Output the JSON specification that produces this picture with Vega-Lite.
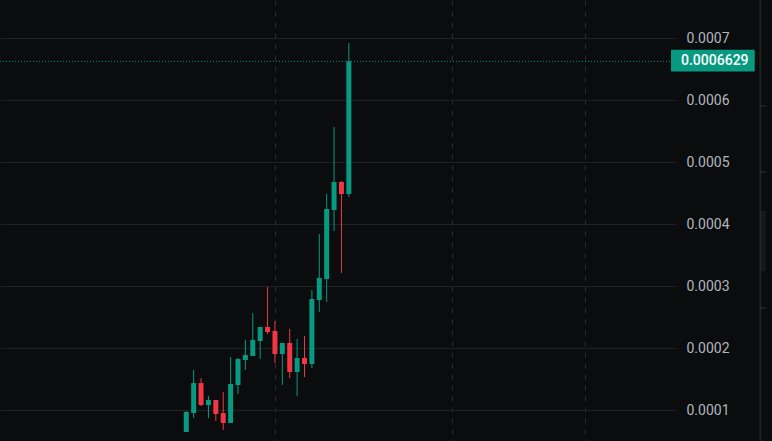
{
  "$schema": "https://vega.github.io/schema/vega-lite/v6.json",
  "width": 676,
  "height": 441,
  "padding": {"left": 0, "top": 0, "right": 96, "bottom": 0},
  "autosize": {"type": "none"},
  "background": "#0b0c0e",
  "config": {
    "view": {"stroke": null},
    "font": "Roboto",
    "axis": {"title": null}
  },
  "datasets": {
    "candles": [
      {"i": 0, "open": 0.0000650, "high": 0.0000989, "low": 0.0000650, "close": 0.0000973},
      {"i": 1, "open": 0.0000956, "high": 0.0001650, "low": 0.0000876, "close": 0.0001440},
      {"i": 2, "open": 0.0001440, "high": 0.0001521, "low": 0.0001069, "close": 0.0001085},
      {"i": 3, "open": 0.0001085, "high": 0.0001231, "low": 0.0000876, "close": 0.0001166},
      {"i": 4, "open": 0.0001166, "high": 0.0001166, "low": 0.0000827, "close": 0.0000940},
      {"i": 5, "open": 0.0000956, "high": 0.0001295, "low": 0.0000682, "close": 0.0000795},
      {"i": 6, "open": 0.0000795, "high": 0.0001860, "low": 0.0000795, "close": 0.0001424},
      {"i": 7, "open": 0.0001408, "high": 0.0001844, "low": 0.0001263, "close": 0.0001827},
      {"i": 8, "open": 0.0001811, "high": 0.0002135, "low": 0.0001650, "close": 0.0001892},
      {"i": 9, "open": 0.0001876, "high": 0.0002569, "low": 0.0001876, "close": 0.0002135},
      {"i": 10, "open": 0.0002118, "high": 0.0002344, "low": 0.0001827, "close": 0.0002344},
      {"i": 11, "open": 0.0002344, "high": 0.0002990, "low": 0.0002230, "close": 0.0002263},
      {"i": 12, "open": 0.0002279, "high": 0.0002440, "low": 0.0001763, "close": 0.0001908},
      {"i": 13, "open": 0.0001908, "high": 0.0002086, "low": 0.0001408, "close": 0.0002086},
      {"i": 14, "open": 0.0002086, "high": 0.0002311, "low": 0.0001521, "close": 0.0001618},
      {"i": 15, "open": 0.0001618, "high": 0.0002150, "low": 0.0001231, "close": 0.0001844},
      {"i": 16, "open": 0.0001844, "high": 0.0002198, "low": 0.0001537, "close": 0.0001747},
      {"i": 17, "open": 0.0001747, "high": 0.0002940, "low": 0.0001682, "close": 0.0002795},
      {"i": 18, "open": 0.0002779, "high": 0.0003844, "low": 0.0002585, "close": 0.0003134},
      {"i": 19, "open": 0.0003118, "high": 0.0004489, "low": 0.0002747, "close": 0.0004247},
      {"i": 20, "open": 0.0004231, "high": 0.0005569, "low": 0.0003892, "close": 0.0004682},
      {"i": 21, "open": 0.0004682, "high": 0.0004698, "low": 0.0003215, "close": 0.0004489},
      {"i": 22, "open": 0.0004489, "high": 0.0006924, "low": 0.0004440, "close": 0.0006629}
    ],
    "one": [{"label": "0.0006629"}],
    "sideTicks": [{"v": 0.0005908}, {"v": 0.0004844}, {"v": 0.0002650}]
  },
  "layer": [
    {
      "data": {"name": "candles"},
      "mark": {"type": "rule", "strokeWidth": 1},
      "encoding": {
        "x": {
          "field": "i", "type": "quantitative",
          "scale": {"domain": [-24.5333, 65.6], "nice": false, "zero": false},
          "axis": {"values": [12, 36, 54], "labels": false, "ticks": false, "domain": false, "grid": true, "gridColor": "#2a2c31", "gridDash": [5, 6], "gridWidth": 1}
        },
        "y": {
          "field": "low", "type": "quantitative",
          "scale": {"domain": [0.0000505, 0.0007618], "nice": false, "zero": false},
          "axis": {"orient": "right", "values": [0.0001, 0.0002, 0.0003, 0.0004, 0.0005, 0.0006, 0.0007], "format": ".4f", "labelColor": "#b2b5be", "labelFontSize": 14, "labelFont": "Roboto", "labelPadding": 10, "ticks": false, "domain": false, "grid": true, "gridColor": "#1f2125", "gridWidth": 1}
        },
        "y2": {"field": "high"},
        "color": {"condition": {"test": "datum.close >= datum.open", "value": "#089981"}, "value": "#f23645"}
      }
    },
    {
      "data": {"name": "candles"},
      "mark": {"type": "bar", "width": 5},
      "encoding": {
        "x": {"field": "i", "type": "quantitative", "scale": {"domain": [-24.5333, 65.6], "nice": false, "zero": false}},
        "y": {"field": "open", "type": "quantitative", "scale": {"domain": [0.0000505, 0.0007618], "nice": false, "zero": false}},
        "y2": {"field": "close"},
        "color": {"condition": {"test": "datum.close >= datum.open", "value": "#089981"}, "value": "#f23645"}
      }
    },
    {
      "data": {"name": "one"},
      "mark": {"type": "rule", "color": "#089981", "strokeDash": [1, 2], "strokeWidth": 1},
      "encoding": {
        "y": {"datum": 0.0006629, "type": "quantitative", "scale": {"domain": [0.0000505, 0.0007618], "nice": false, "zero": false}}
      }
    },
    {
      "data": {"name": "one"},
      "mark": {"type": "rect", "color": "#089981", "cornerRadius": 1},
      "encoding": {
        "x": {"datum": 65.6, "type": "quantitative", "scale": {"domain": [-24.5333, 65.6], "nice": false, "zero": false}},
        "x2": {"datum": 76.9333},
        "y": {"datum": 0.0006814, "type": "quantitative", "scale": {"domain": [0.0000505, 0.0007618], "nice": false, "zero": false}},
        "y2": {"datum": 0.0006465}
      }
    },
    {
      "data": {"name": "one"},
      "mark": {"type": "text", "color": "#ffffff", "fontSize": 14, "fontWeight": 500, "font": "Roboto", "align": "left", "baseline": "middle", "dx": 10},
      "encoding": {
        "x": {"datum": 65.6, "type": "quantitative", "scale": {"domain": [-24.5333, 65.6], "nice": false, "zero": false}},
        "y": {"datum": 0.0006629, "type": "quantitative", "scale": {"domain": [0.0000505, 0.0007618], "nice": false, "zero": false}},
        "text": {"field": "label"}
      }
    },
    {
      "data": {"name": "one"},
      "mark": {"type": "rect", "color": "#17181c"},
      "encoding": {
        "x": {"datum": 77.7333, "type": "quantitative", "scale": {"domain": [-24.5333, 65.6], "nice": false, "zero": false}},
        "x2": {"datum": 78.4},
        "y": {"datum": 0.0004215, "type": "quantitative", "scale": {"domain": [0.0000505, 0.0007618], "nice": false, "zero": false}},
        "y2": {"datum": 0.0003247}
      }
    },
    {
      "data": {"name": "one"},
      "mark": {"type": "rule", "color": "#303238", "strokeWidth": 1},
      "encoding": {
        "x": {"datum": 77.6667, "type": "quantitative", "scale": {"domain": [-24.5333, 65.6], "nice": false, "zero": false}}
      }
    },
    {
      "data": {"name": "sideTicks"},
      "mark": {"type": "rule", "color": "#303238", "strokeWidth": 1},
      "encoding": {
        "x": {"datum": 77.6667, "type": "quantitative", "scale": {"domain": [-24.5333, 65.6], "nice": false, "zero": false}},
        "x2": {"datum": 78.4},
        "y": {"field": "v", "type": "quantitative", "scale": {"domain": [0.0000505, 0.0007618], "nice": false, "zero": false}}
      }
    }
  ]
}
